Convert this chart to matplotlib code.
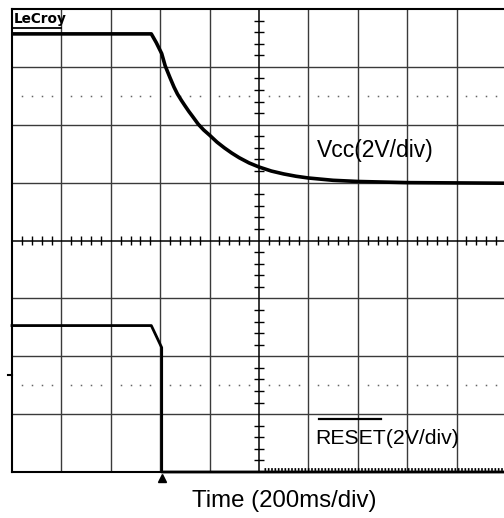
import numpy as np
import matplotlib
matplotlib.use("Agg")
import matplotlib.pyplot as plt
import matplotlib.transforms as mtransforms

# ---- data (in screen divisions: x 0..10, y -4..4) ----
vcc_t = [0, 2.82, 2.92, 3.03, 3.10, 3.20, 3.28, 3.35, 3.43, 3.50, 3.58, 3.65,
         3.77, 3.88, 4.00, 4.15, 4.30, 4.45, 4.60, 4.80, 5.00, 5.25, 5.50,
         5.75, 6.00, 6.50, 7.00, 8.00, 10.0]
vcc_v = [3.57, 3.57, 3.42, 3.23, 3.02, 2.81, 2.65, 2.53, 2.42, 2.33, 2.23, 2.15,
         2.01, 1.91, 1.82, 1.70, 1.60, 1.51, 1.43, 1.34, 1.27, 1.20, 1.15,
         1.11, 1.08, 1.04, 1.02, 1.00, 0.99]

reset_t = [0, 2.82, 3.03, 3.03, 10.0]
reset_v = [-1.47, -1.47, -1.85, -4.0, -4.0]

reset_noise_t = [5.1, 10.0]
reset_noise_v = [-3.95, -3.95]

trigger_t = 3.03
ground_marker_v = -2.33

vcc_label = "Vcc(2V/div)"
reset_label_main = "RESET"
reset_label_rest = "(2V/div)"
time_label = "Time (200ms/div)"

plt.rcParams['font.family'] = ['Liberation Sans', 'DejaVu Sans']

W, H = 504, 518
fig = plt.figure(figsize=(W / 100, H / 100), dpi=100)
ax = fig.add_axes([12 / W, 46 / H, 494 / W, 463 / H])
ax.set_xlim(0, 10)
ax.set_ylim(-4, 4)
ax.set_xticks([])
ax.set_yticks([])
for s in ax.spines.values():
    s.set_linewidth(1.5)
    s.set_color('black')

# grid
for x in range(1, 10):
    if x != 5:
        ax.axvline(x, color='#3a3a3a', lw=1.0, zorder=1)
for y in range(-3, 4):
    if y != 0:
        ax.axhline(y, color='#3a3a3a', lw=1.0, zorder=1)
ax.axvline(5, color='black', lw=1.1, zorder=1)
ax.axhline(0, color='black', lw=1.1, zorder=1)

# center-axis minor ticks
minor_x = [i / 5 for i in range(1, 50) if i % 5 != 0]
ax.vlines(minor_x, -0.07, 0.07, color='black', lw=1.0, zorder=1)
minor_y = [j / 5 for j in range(-19, 20) if j % 5 != 0]
ax.hlines(minor_y, 4.9, 5.1, color='black', lw=1.0, zorder=1)

# dotted lines at +/-2.5 div
dots_x = [k + j * 0.2 for k in range(10) for j in range(1, 5)]
for yy in (2.5, -2.5):
    ax.plot(dots_x, [yy] * len(dots_x), ls='none', marker='s', ms=1.1,
            mew=0, color='#666666', zorder=1)

# traces
ax.plot(vcc_t, vcc_v, color='black', lw=2.6, solid_joinstyle='round', zorder=3)
ax.plot(reset_t, reset_v, color='black', lw=2.0, zorder=3, clip_on=False)
ax.plot(reset_noise_t, reset_noise_v, color='black', lw=2.0,
        dashes=(0.6, 0.6), zorder=3)

# trigger marker and ground marker
trans = mtransforms.blended_transform_factory(ax.transData, ax.transAxes)
ax.plot([trigger_t], [-0.012], marker='^', ms=6, color='black',
        transform=trans, clip_on=False, zorder=4)
ax.plot([-0.08, 0.0], [ground_marker_v, ground_marker_v], color='black',
        lw=1.5, clip_on=False)

# labels
ax.text(6.17, 1.44, vcc_label, fontsize=16.5, ha='left', va='baseline')
ax.text(6.13, -3.51, reset_label_main + reset_label_rest, fontsize=15.3,
        ha='left', va='baseline')
ax.plot([6.21, 7.47], [-3.08, -3.08], color='black', lw=1.6)

# LeCroy logo
ax.text(0.03, 3.75, "LeCroy", fontsize=9.8, fontweight='bold',
        family='DejaVu Sans', ha='left', va='baseline')
ax.plot([0.02, 1.0], [3.67, 3.67], color='black', lw=1.3)

fig.text(192 / W, 11 / H, time_label, fontsize=17.3, ha='left',
         va='baseline')

fig.savefig('out.png', dpi=100, facecolor='white')
